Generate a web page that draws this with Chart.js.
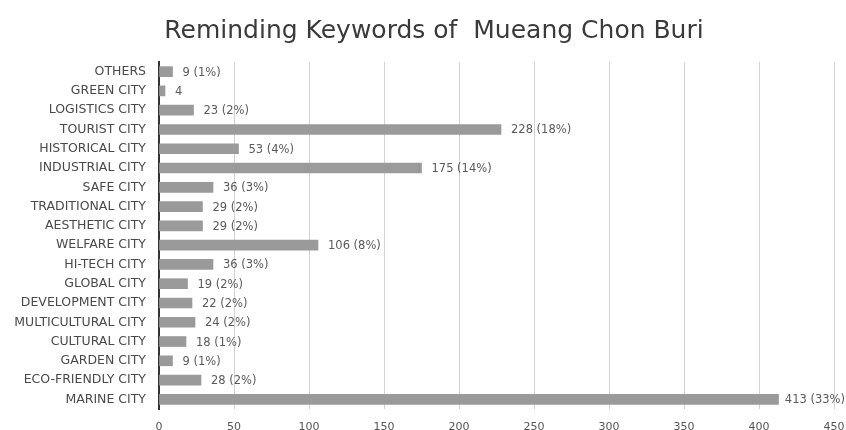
<!DOCTYPE html>
<html>
<head>
<meta charset="utf-8">
<script src="https://cdn.jsdelivr.net/npm/chart.js@4/dist/chart.umd.min.js"></script>
<style>
html,body{margin:0;padding:0;background:#fff;}
#wrap{width:846px;height:430px;position:relative;}
</style>
</head>
<body>
<div id="wrap"><canvas id="c" width="846" height="430"></canvas></div>
<script>
const categories = ["OTHERS","GREEN CITY","LOGISTICS CITY","TOURIST CITY","HISTORICAL CITY","INDUSTRIAL CITY","SAFE CITY","TRADITIONAL CITY","AESTHETIC CITY","WELFARE CITY","HI-TECH CITY","GLOBAL CITY","DEVELOPMENT CITY","MULTICULTURAL CITY","CULTURAL CITY","GARDEN CITY","ECO-FRIENDLY CITY","MARINE CITY"];
const counts = [9,4,23,228,53,175,36,29,29,106,36,19,22,24,18,9,28,413];
const percentLabels = ["9 (1%)","4","23 (2%)","228 (18%)","53 (4%)","175 (14%)","36 (3%)","29 (2%)","29 (2%)","106 (8%)","36 (3%)","19 (2%)","22 (2%)","24 (2%)","18 (1%)","9 (1%)","28 (2%)","413 (33%)"];
const xTicks = [0,50,100,150,200,250,300,350,400,450];
const titleText = "Reminding Keywords of  Mueang Chon Buri";

const FONT = "'DejaVu Sans', 'Open Sans', sans-serif";

const valueLabels = {
  id: 'valueLabels',
  afterDatasetsDraw(chart) {
    const ctx = chart.ctx;
    const meta = chart.getDatasetMeta(0);
    ctx.save();
    ctx.font = "11.5px " + FONT;
    ctx.fillStyle = "#5a5a5a";
    ctx.textAlign = "left";
    ctx.textBaseline = "middle";
    meta.data.forEach((bar, i) => {
      const w = ctx.measureText(percentLabels[i]).width;
      const x = Math.min(bar.x + 10, chart.width - w - 1);
      ctx.fillText(percentLabels[i], x, bar.y + 1);
    });
    ctx.restore();
  }
};

const titlePlugin = {
  id: 'titlePlugin',
  afterDraw(chart) {
    const ctx = chart.ctx;
    ctx.save();
    ctx.font = "25px " + FONT;
    ctx.fillStyle = "#3a3a3a";
    ctx.textAlign = "center";
    ctx.textBaseline = "alphabetic";
    ctx.fillText(titleText, 434, 38);
    ctx.restore();
  }
};

new Chart(document.getElementById('c'), {
  type: 'bar',
  data: {
    labels: categories,
    datasets: [{
      data: counts,
      backgroundColor: '#9a9a9a',
      borderWidth: 0,
      barThickness: 10
    }]
  },
  options: {
    indexAxis: 'y',
    responsive: false,
    animation: false,
    devicePixelRatio: 1,
    layout: { padding: { left: 0, right: 12, top: 62, bottom: 0 } },
    plugins: {
      legend: { display: false },
      tooltip: { enabled: false },
      title: { display: false }
    },
    scales: {
      x: {
        min: 0, max: 450,
        afterBuildTicks(scale) { scale.ticks = xTicks.map(v => ({ value: v })); },
        grid: { color: '#d2d2d2', lineWidth: 1, drawTicks: false },
        border: { display: false },
        ticks: { color: '#555', font: { family: FONT, size: 11, lineHeight: 1 }, padding: 13 },
        afterFit(scale) { scale.height = 21; scale.paddingRight = 0; scale.paddingLeft = 0; }
      },
      y: {
        grid: { display: false, drawTicks: false },
        border: { display: true, color: '#333', width: 2 },
        ticks: { color: '#4a4a4a', font: { family: FONT, size: 12.5 }, padding: 13, autoSkip: false },
        afterFit(scale) { scale.width = 159; }
      }
    }
  },
  plugins: [valueLabels, titlePlugin]
});
</script>
</body>
</html>
